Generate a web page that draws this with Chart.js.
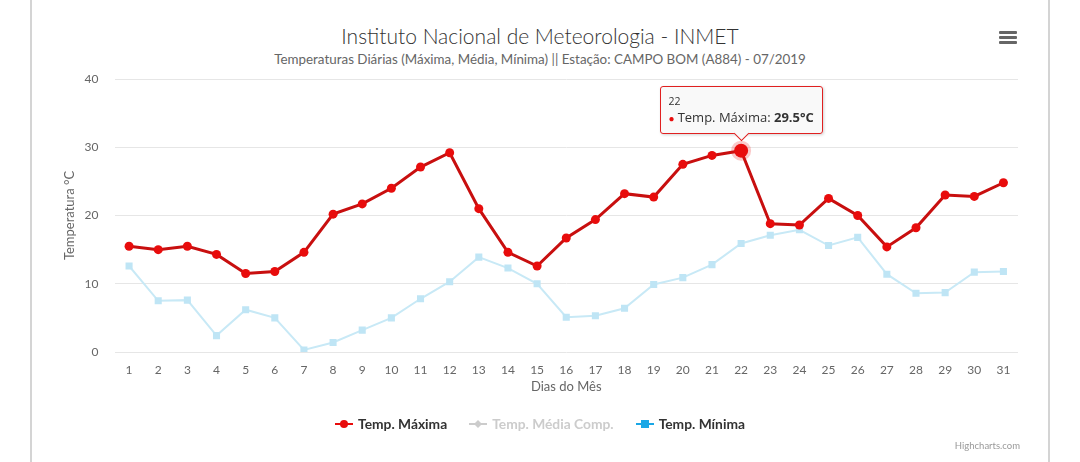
<!DOCTYPE html>
<html>
<head>
<meta charset="utf-8">
<script src="https://cdn.jsdelivr.net/npm/chart.js@4/dist/chart.umd.min.js"></script>
<style>
  html, body { margin: 0; padding: 0; background: #fff; }
  body { width: 1080px; height: 462px; position: relative; overflow: hidden; font-family: Lato, sans-serif; }
  .card { position: absolute; left: 30px; top: -2px; width: 1016px; height: 470px; border-left: 2px solid #d4d4d4; border-right: 2px solid #d4d4d4; }
  #wrap { position: absolute; left: 0; top: 0; width: 1080px; height: 462px; }
  .title { position: absolute; left: 0; width: 1080px; top: 23px; text-align: center; font-size: 21px; font-weight: 300; color: #333; }
  .subtitle { position: absolute; left: 0; width: 1080px; top: 51px; text-align: center; font-size: 13.4px; color: #666; }
  .menu { position: absolute; left: 999px; top: 31px; width: 18px; }
  .menu span { display: block; height: 3px; background: #666; border-radius: 1px; margin-bottom: 2px; }
  #legend { position: absolute; left: 0; width: 1080px; top: 415px; display: flex; justify-content: center; gap: 22px; font-size: 13.8px; font-weight: bold; }
  #legend .item { display: flex; align-items: center; gap: 5px; color: #333; }
  #legend .item.off { color: #ccc; }
  #legend svg { display: block; }
  .credits { position: absolute; right: 60px; top: 440px; font-size: 9.5px; color: #999; }
  #tip { position: absolute; pointer-events: none; background: rgba(249,249,249,0.96); border: 1px solid #e02020; border-radius: 3px; padding: 7px 8px 6px 8px; box-shadow: 1px 1px 3px rgba(0,0,0,0.18); font-family: "Open Sans", sans-serif; color: #333; white-space: nowrap; opacity: 0; }
  #tip .t-title { font-size: 10.5px; line-height: 14px; }
  #tip .t-body { font-size: 13px; line-height: 18px; }
  #tip .t-dot { color: #e80c0c; font-size: 10px; margin-right: 3px; }
  #tip .t-val { font-weight: bold; }
  #tip::after { content: ""; position: absolute; left: 50%; bottom: -6px; width: 10px; height: 10px; margin-left: -5px; background: rgb(249,249,249); border-right: 1px solid #e02020; border-bottom: 1px solid #e02020; transform: rotate(45deg); }
</style>
</head>
<body>
<div class="card"></div>
<div class="title">Instituto Nacional de Meteorologia - INMET</div>
<div class="subtitle">Temperaturas Diárias (Máxima, Média, Mínima) || Estação: CAMPO BOM (A884) - 07/2019</div>
<div class="menu"><span></span><span></span><span></span></div>
<div id="wrap"><canvas id="tempChart"></canvas></div>
<div id="legend"></div>
<div class="credits">Highcharts.com</div>
<div id="tip"><div class="t-title"></div><div class="t-body"><span class="t-dot">●</span><span class="t-name"></span><span class="t-val"></span></div></div>

<script>
  const dias = ['1','2','3','4','5','6','7','8','9','10','11','12','13','14','15','16',
                '17','18','19','20','21','22','23','24','25','26','27','28','29','30','31'];
  const tempMaxima = [15.5, 15.0, 15.5, 14.3, 11.5, 11.8, 14.6, 20.2, 21.7, 24.0, 27.1, 29.2, 21.0, 14.6, 12.6, 16.7,
                      19.4, 23.2, 22.7, 27.5, 28.8, 29.5, 18.8, 18.6, 22.5, 20.0, 15.4, 18.2, 23.0, 22.8, 24.8];
  const tempMinima = [12.6, 7.5, 7.6, 2.4, 6.2, 5.0, 0.3, 1.4, 3.2, 5.0, 7.8, 10.3, 13.9, 12.3, 10.0, 5.1,
                      5.3, 6.4, 9.9, 10.9, 12.8, 15.9, 17.1, 17.9, 15.6, 16.8, 11.4, 8.6, 8.7, 11.7, 11.8];
  const yTicks = [0, 10, 20, 30, 40];
  const seriesNames = ['Temp. Máxima', 'Temp. Média Comp.', 'Temp. Mínima'];

  // legenda em html (a serie "Média Comp." esta oculta no original)
  const legendIcons = [
    '<svg width="18" height="10"><line x1="0" y1="5" x2="18" y2="5" stroke="#e80c0c" stroke-width="2"/><circle cx="9" cy="5" r="4" fill="#e80c0c"/></svg>',
    '<svg width="18" height="10"><line x1="0" y1="5" x2="18" y2="5" stroke="#ccc" stroke-width="2"/><path d="M9 1 L13 5 L9 9 L5 5 Z" fill="#ccc"/></svg>',
    '<svg width="18" height="10"><line x1="0" y1="5" x2="18" y2="5" stroke="#1aa7e6" stroke-width="2"/><rect x="5" y="1" width="8" height="8" fill="#1aa7e6"/></svg>'
  ];
  document.getElementById('legend').innerHTML = seriesNames.map((n, i) =>
    `<div class="item${i === 1 ? ' off' : ''}">${legendIcons[i]}<span>${n}</span></div>`).join('');

  function externalTooltip(context) {
    const { chart, tooltip } = context;
    const el = document.getElementById('tip');
    if (tooltip.opacity === 0 || !tooltip.dataPoints || !tooltip.dataPoints.length) { el.style.opacity = 0; return; }
    const dp = tooltip.dataPoints[0];
    el.querySelector('.t-title').textContent = dp.label;
    el.querySelector('.t-name').textContent = dp.dataset.label + ': ';
    el.querySelector('.t-val').textContent = dp.formattedValue + '°C';
    el.style.opacity = 1;
    el.style.left = (chart.canvas.offsetLeft + tooltip.caretX - el.offsetWidth / 2) + 'px';
    el.style.top = (chart.canvas.offsetTop + tooltip.caretY - el.offsetHeight - 17) + 'px';
  }

  const ctx = document.getElementById('tempChart').getContext('2d');
  const tempChart = new Chart(ctx, {
    type: 'line',
    data: {
      labels: dias,
      datasets: [{
        label: seriesNames[0],
        data: tempMaxima,
        borderColor: '#c80f0f',
        backgroundColor: '#e80c0c',
        borderWidth: 3,
        pointRadius: 4.5,
        pointBackgroundColor: '#e80c0c',
        pointBorderWidth: 0,
        pointHoverRadius: 7,
        pointHoverBorderWidth: 6,
        pointHoverBorderColor: 'rgba(232,12,12,0.22)',
        pointHoverBackgroundColor: '#e80c0c',
        tension: 0
      }, {
        label: seriesNames[2],
        data: tempMinima,
        borderColor: '#c8e9f6',
        backgroundColor: '#bfe5f5',
        borderWidth: 2,
        pointStyle: 'rect',
        pointRadius: 5,
        pointBackgroundColor: '#bfe5f5',
        pointBorderWidth: 0,
        tension: 0
      }]
    },
    options: {
      responsive: true,
      maintainAspectRatio: false,
      animation: false,
      events: [],
      layout: { padding: { left: 58, top: 79, right: 62, bottom: 62 } },
      plugins: {
        legend: { display: false },
        title: { display: false },
        tooltip: { enabled: false, external: externalTooltip, mode: 'nearest', intersect: true }
      },
      scales: {
        x: {
          offset: true,
          afterFit: s => { s.height = 48; },
          grid: { display: false, drawTicks: false },
          border: { display: false },
          ticks: { color: '#666', font: { family: 'Lato', size: 12 }, padding: 11, maxRotation: 0, autoSkip: false },
          title: { display: true, text: 'Dias do Mês', color: '#666', font: { family: 'Lato', size: 13 }, padding: { top: 0, bottom: 5 } }
        },
        y: {
          min: 0,
          max: 40,
          afterFit: s => { s.width = 56.5; },
          afterBuildTicks: s => { s.ticks = yTicks.map(v => ({ value: v })); },
          grid: { color: '#e6e6e6', lineWidth: 1, drawTicks: false },
          border: { display: false },
          ticks: { color: '#666', font: { family: 'Lato', size: 12 }, padding: 16 },
          title: { display: true, text: 'Temperatura °C', color: '#666', font: { family: 'Lato', size: 13 }, padding: { top: 4, bottom: 4 } }
        }
      }
    }
  });

  // tooltip fixo no dia 22 como no original
  const ativo = [{ datasetIndex: 0, index: 21 }];
  tempChart.setActiveElements(ativo);
  tempChart.tooltip.setActiveElements(ativo, { x: 0, y: 0 });
  tempChart.update('none');
</script>
</body>
</html>
